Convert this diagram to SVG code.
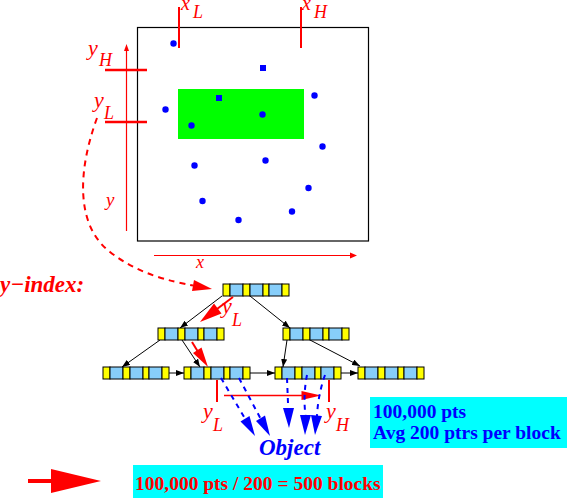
<svg xmlns="http://www.w3.org/2000/svg" xmlns:xlink="http://www.w3.org/1999/xlink" width="568" height="499" viewBox="0 0 568 499">
<style>
.lbl{font-family:"Liberation Serif","Times New Roman",serif;font-style:italic;fill:#ff0000}
.big{font-size:22px}
.sub{font-size:18px}
.dot{fill:#0000ff}
.conn{stroke:#000;stroke-width:1;fill:none;marker-end:url(#ah)}
.red{stroke:#ff0000;fill:none}
.rf{fill:#ff0000}
.bd{stroke:#0000ff;stroke-width:2;fill:none;stroke-dasharray:5 5}
.bf{fill:#0000ff}
.y{fill:#ffff00;stroke:#000;stroke-width:1}
.b{fill:#87cefa;stroke:#000;stroke-width:1}
.box{font-family:"Liberation Serif","Times New Roman",serif;font-weight:bold;font-size:19.5px}
</style>
<defs>
<marker id="ah" markerWidth="8" markerHeight="6" refX="8" refY="3" orient="auto" markerUnits="userSpaceOnUse">
<path d="M0,0 L8,3 L0,6 z" fill="#000"/>
</marker>
<g id="bnode">
<rect class="y" x="0" y="0" width="7" height="12"/>
<rect class="b" x="7" y="0" width="13" height="12"/>
<rect class="y" x="20" y="0" width="7" height="12"/>
<rect class="b" x="27" y="0" width="13" height="12"/>
<rect class="y" x="40" y="0" width="6" height="12"/>
<rect class="b" x="46" y="0" width="13" height="12"/>
<rect class="y" x="59" y="0" width="7" height="12"/>
</g>
</defs>
<rect width="568" height="499" fill="#fff"/>

<g id="plot">
<rect x="137.5" y="27.5" width="231" height="213.5" fill="none" stroke="#000" stroke-width="1.2"/>
<rect x="178" y="89" width="126" height="50" fill="#00ff00"/>
<circle class="dot" cx="173.5" cy="43.5" r="3.2"/>
<rect class="dot" x="260" y="65" width="6" height="6"/>
<circle class="dot" cx="314.5" cy="95.5" r="3.2"/>
<circle class="dot" cx="165.5" cy="109.5" r="3.2"/>
<rect class="dot" x="216" y="95" width="6" height="6"/>
<circle class="dot" cx="262.5" cy="114.5" r="3.2"/>
<circle class="dot" cx="191.5" cy="125.5" r="3.2"/>
<circle class="dot" cx="322.5" cy="146.5" r="3.2"/>
<circle class="dot" cx="194.5" cy="165.5" r="3.2"/>
<circle class="dot" cx="265.5" cy="160.5" r="3.2"/>
<circle class="dot" cx="308.5" cy="188" r="3.2"/>
<circle class="dot" cx="202.5" cy="201" r="3.2"/>
<circle class="dot" cx="292" cy="211.5" r="3.2"/>
<circle class="dot" cx="238.5" cy="220" r="3.2"/>
<line class="red" x1="179" y1="7" x2="179" y2="48" stroke-width="2"/>
<line class="red" x1="301" y1="7" x2="301" y2="48" stroke-width="2"/>
<line class="red" x1="105" y1="70" x2="147" y2="70" stroke-width="2.5"/>
<line class="red" x1="105" y1="122" x2="147" y2="122" stroke-width="2.5"/>
<line class="red" x1="126.5" y1="231" x2="126.5" y2="50" stroke-width="1.2"/>
<path class="rf" d="M126.5,44 L129,51 L124,51 z"/>
<line class="red" x1="154" y1="255.5" x2="351" y2="255.5" stroke-width="1.2"/>
<path class="rf" d="M357,255.5 L350,252.5 L350,258.5 z"/>
<text class="lbl" x="181" y="10" font-size="20">x</text><text class="lbl sub" x="193" y="18">L</text>
<text class="lbl" x="302" y="10" font-size="20">x</text><text class="lbl sub" x="314" y="18">H</text>
<text class="lbl big" x="88" y="55">y</text><text class="lbl sub" x="99" y="66">H</text>
<text class="lbl big" x="94" y="107">y</text><text class="lbl sub" x="104" y="119">L</text>
<text class="lbl" x="106" y="206" font-size="19">y</text>
<text class="lbl" x="196" y="268" font-size="18">x</text>
<path class="red" d="M97,118 C78,170 75,225 110,252 C140,275 170,281 193,285.5" stroke-width="2" stroke-dasharray="6 5"/>
<path class="rf" d="M212,289 L192,291 L194,280 z"/>
</g>

<text class="lbl" x="0" y="292" font-size="23" font-weight="bold">y−index:</text>

<g id="connectors">
<line class="conn" x1="222" y1="296" x2="180" y2="328"/>
<line class="conn" x1="250" y1="296" x2="290" y2="328"/>
<line class="conn" x1="160" y1="340" x2="122" y2="367"/>
<line class="conn" x1="182" y1="340" x2="200" y2="367"/>
<line class="conn" x1="287" y1="340" x2="283" y2="367"/>
<line class="conn" x1="310" y1="340" x2="360" y2="366"/>
<line class="conn" x1="169" y1="373" x2="184" y2="373"/>
<line class="conn" x1="250" y1="373" x2="275" y2="373"/>
<line class="conn" x1="341" y1="373" x2="358" y2="373"/>
</g>

<g id="n-root"><use xlink:href="#bnode" href="#bnode" x="223" y="284"/></g>
<g id="n-mid-left"><use xlink:href="#bnode" href="#bnode" x="158" y="328"/></g>
<g id="n-mid-right"><use xlink:href="#bnode" href="#bnode" x="283" y="328"/></g>
<g id="n-leaf-1"><use xlink:href="#bnode" href="#bnode" x="103" y="367"/></g>
<g id="n-leaf-2"><use xlink:href="#bnode" href="#bnode" x="184" y="367"/></g>
<g id="n-leaf-3"><use xlink:href="#bnode" href="#bnode" x="275" y="367"/></g>
<g id="n-leaf-4"><use xlink:href="#bnode" href="#bnode" x="358" y="367"/></g>

<g id="search-arrows">
<line class="red" x1="233" y1="297" x2="217" y2="309" stroke-width="2"/>
<path class="rf" d="M200,322 L221.5,313.5 L214,303.5 z"/>
<text class="lbl big" x="222" y="313">y</text><text class="lbl sub" x="232" y="326">L</text>
<line class="red" x1="192" y1="342" x2="197.5" y2="351" stroke-width="2"/>
<path class="rf" d="M208,367 L201.5,347.5 L193,353 z"/>
</g>

<g id="range">
<line class="red" x1="217" y1="380" x2="217" y2="402" stroke-width="2"/>
<line class="red" x1="329" y1="380" x2="329" y2="402" stroke-width="2"/>
<line class="red" x1="224" y1="395.5" x2="302" y2="395.5" stroke-width="1.5"/>
<path class="rf" d="M321,395.5 L301.5,391 L301.5,400 z"/>
<text class="lbl big" x="203" y="418">y</text><text class="lbl sub" x="213" y="431">L</text>
<text class="lbl big" x="326" y="418">y</text><text class="lbl sub" x="336" y="431">H</text>
</g>

<g id="object-ptrs">
<path class="bd" d="M221,378 L245,418.5"/>
<path class="bf" d="M255,436 L249.5,416 L240.5,421.5 z"/>
<path class="bd" d="M239,378 L260.5,418.5"/>
<path class="bf" d="M270,436 L265,415.5 L256,421 z"/>
<path class="bd" d="M287,378 L288.2,408"/>
<path class="bf" d="M289,428 L283,408 L294,408 z"/>
<path class="bd" d="M307,375 Q303,395 305.5,416"/>
<path class="bf" d="M305,435 L300,415 L311,415 z"/>
<path class="bd" d="M325,375 Q318,395 317,416"/>
<path class="bf" d="M315,435 L311,415 L322,416 z"/>
<text x="259" y="455" font-family="Liberation Serif, Times New Roman, serif" font-style="italic" font-weight="bold" font-size="23" fill="#0000ff">Object</text>
</g>

<g id="info-box">
<rect x="370" y="397" width="197" height="51" fill="#00ffff"/>
<text class="box" x="373" y="418" fill="#0000ff">100,000 pts</text>
<text class="box" x="373" y="439" fill="#0000ff">Avg 200 ptrs per block</text>
</g>

<g id="result">
<line x1="28" y1="481" x2="52" y2="481" stroke="#ff0000" stroke-width="4"/>
<path class="rf" d="M101,481 L51,469 L51,493 z"/>
<rect x="133" y="465" width="250" height="33" fill="#00ffff"/>
<text class="box" x="135" y="490" fill="#ff0000">100,000 pts / 200 = 500 blocks</text>
</g>
</svg>
